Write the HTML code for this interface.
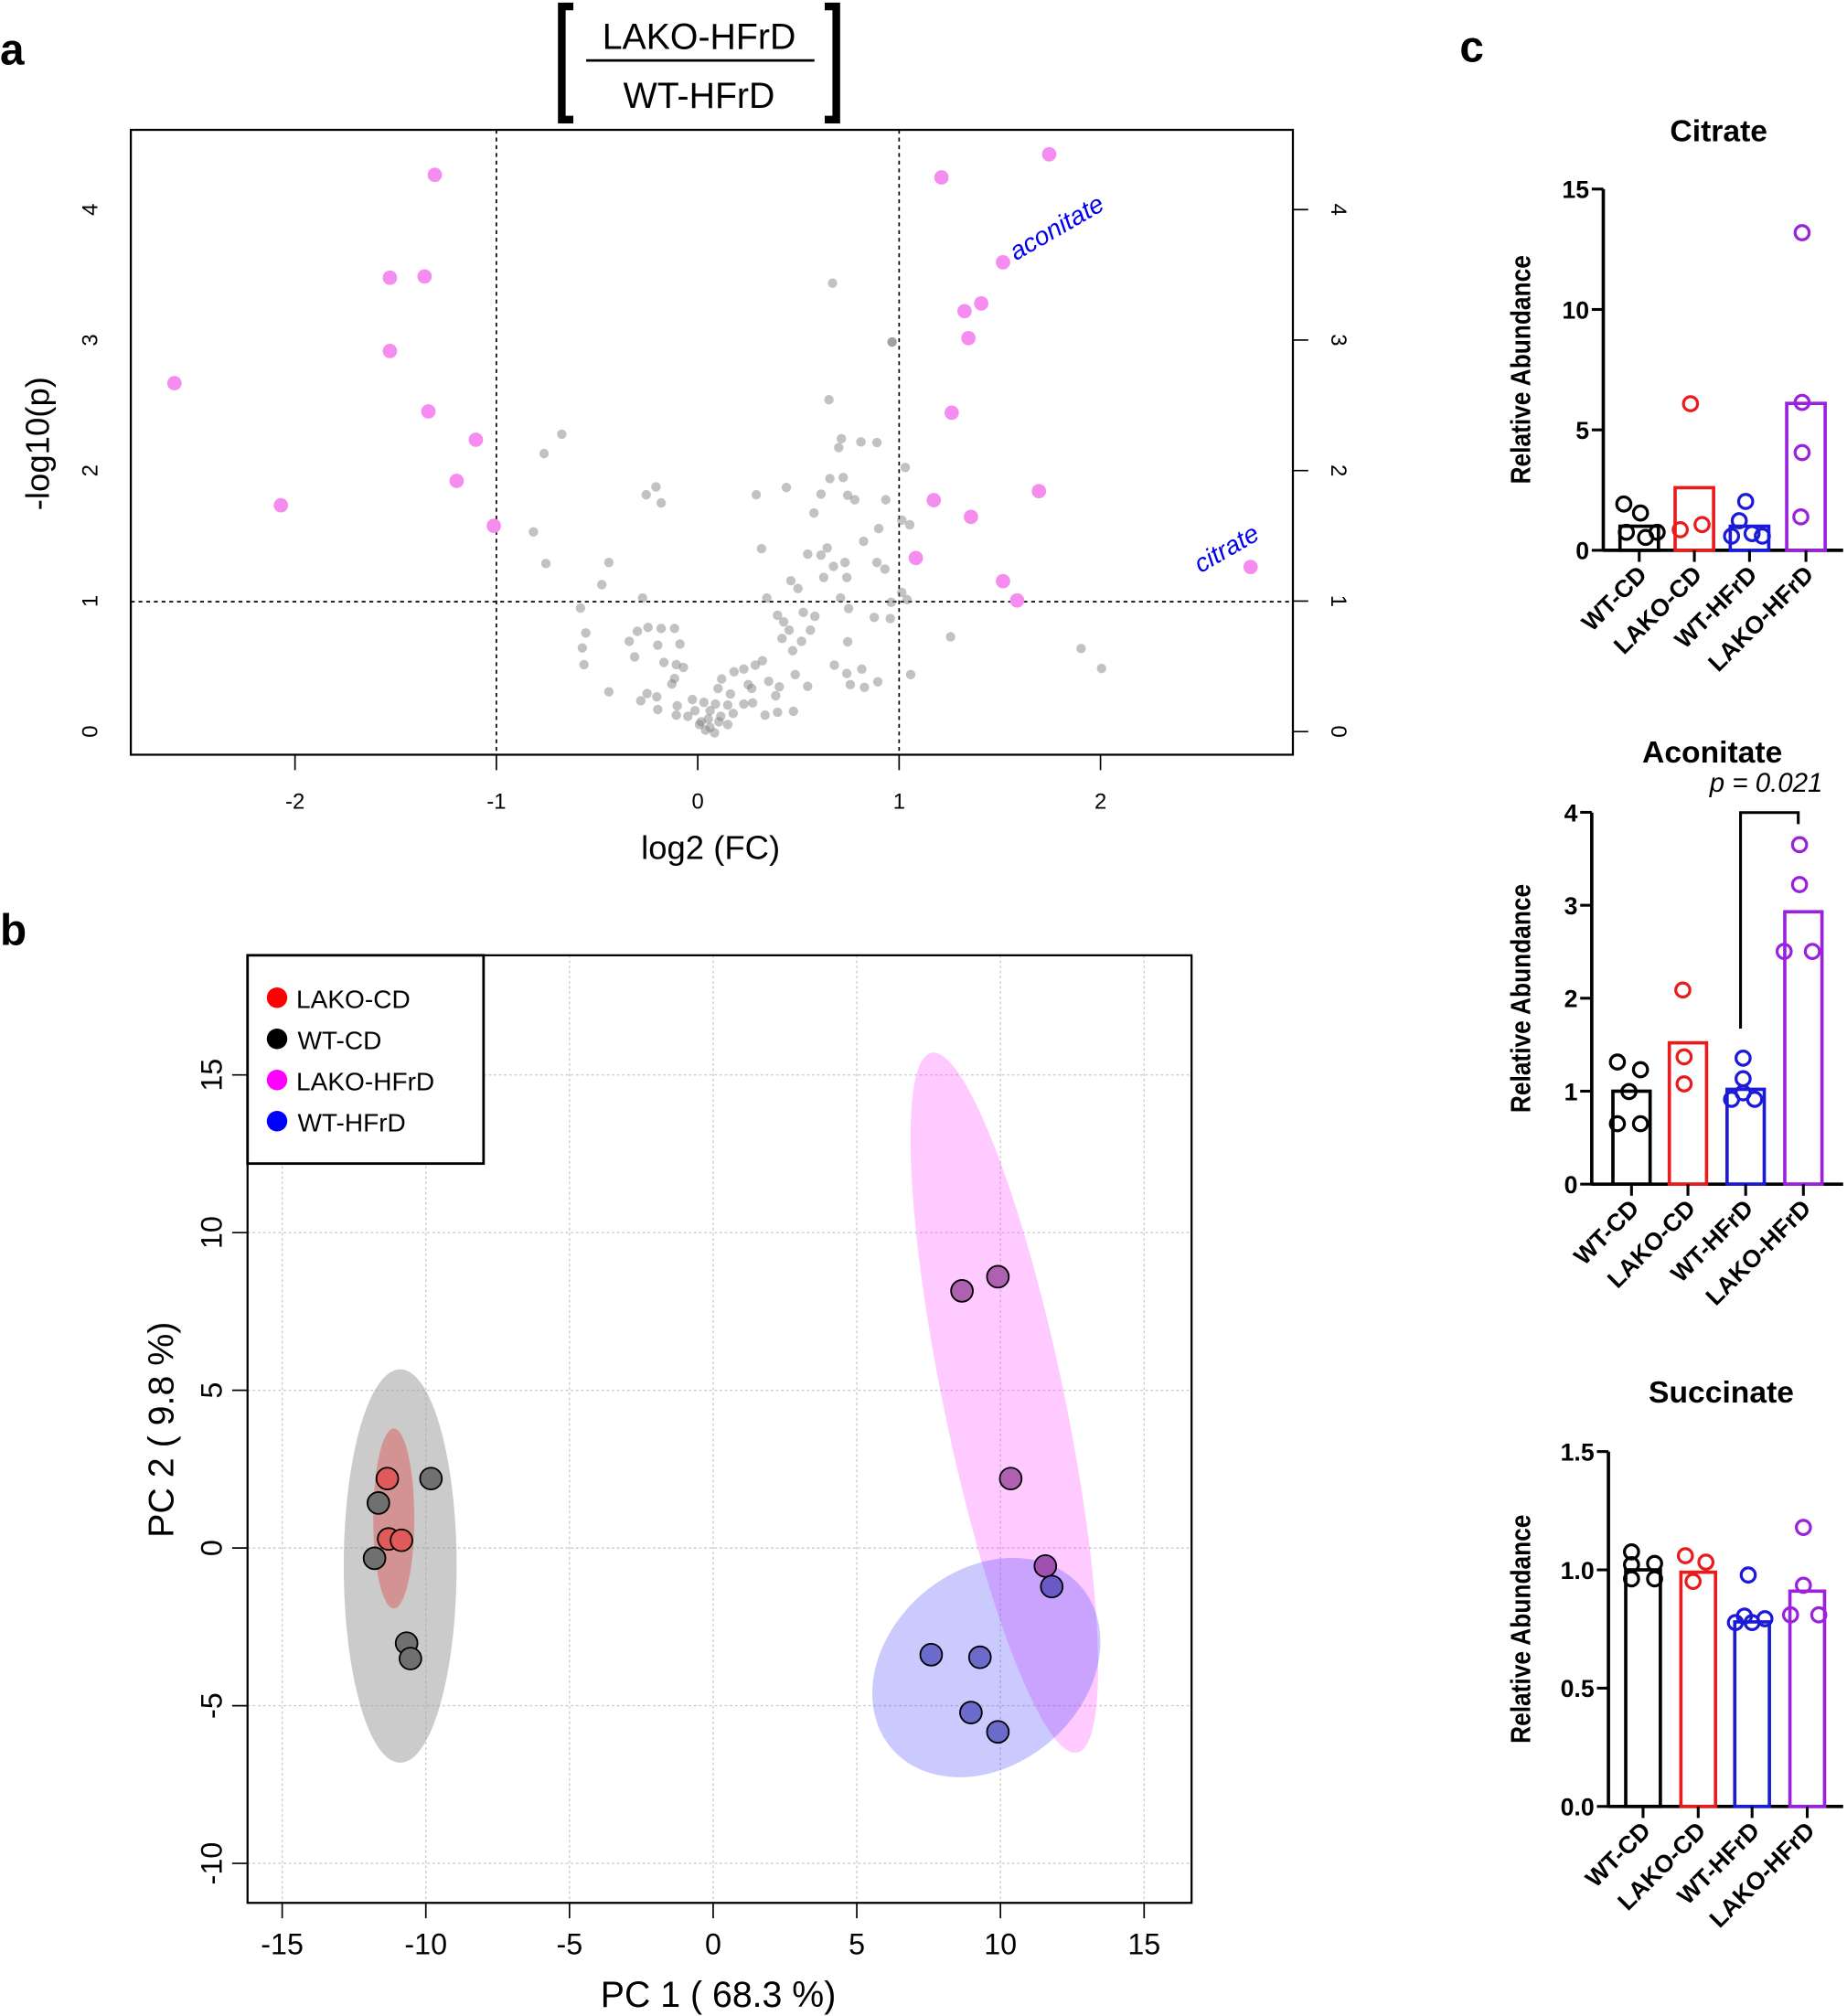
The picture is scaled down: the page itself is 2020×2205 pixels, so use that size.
<!DOCTYPE html>
<html><head><meta charset="utf-8"><style>
html,body{margin:0;padding:0;background:#fff}
svg{display:block}
text{font-family:"Liberation Sans",sans-serif}
</style></head><body>
<svg id="s" width="2020" height="2205" viewBox="0 0 1440 1568" preserveAspectRatio="none" xmlns="http://www.w3.org/2000/svg">
<rect width="1440" height="1568" fill="#fff"/>
<!-- Panel a -->
<text x="0" y="50" font-size="34" font-weight="bold">a</text>
<g stroke="#000" stroke-width="6" fill="none">
<path d="M447 5 H438 V93 H447"/><path d="M643 5 H652 V93 H643"/>
</g>
<text x="545" y="38" font-size="28" text-anchor="middle">LAKO-HFrD</text>
<line x1="457" y1="47" x2="635" y2="47" stroke="#000" stroke-width="2"/>
<text x="545" y="84" font-size="28" text-anchor="middle">WT-HFrD</text>
<rect x="102" y="101" width="906" height="486" fill="none" stroke="#000" stroke-width="1.6"/>
<g stroke="#000" stroke-width="1.2" stroke-dasharray="3,3">
<line x1="387" y1="101" x2="387" y2="587"/><line x1="701" y1="101" x2="701" y2="587"/>
<line x1="102" y1="468" x2="1008" y2="468"/>
</g>
<g id="grey" fill="#777" fill-opacity="0.45"></g>
<g id="pink" fill="#f58cf0"></g>
<g stroke="#000" stroke-width="1.2" id="ticksa"></g>
<g font-size="17" id="labsa"></g>
<text x="554" y="668" font-size="26" text-anchor="middle">log2 (FC)</text>
<text transform="translate(38,345) rotate(-90)" font-size="26" text-anchor="middle">-log10(p)</text>
<text transform="translate(792,203) rotate(-30)" font-size="20" font-style="italic" fill="#0000ee">aconitate</text>
<text transform="translate(936,446) rotate(-30)" font-size="20" font-style="italic" fill="#0000ee">citrate</text>

<!-- Panel b -->
<text x="0" y="735" font-size="34" font-weight="bold">b</text>
<g id="gridb" stroke="#ccc" stroke-width="1" stroke-dasharray="2,2"></g>
<ellipse cx="312" cy="1218" rx="44" ry="153" fill="#a0a0a0" fill-opacity="0.55"/>
<ellipse cx="307" cy="1181" rx="16" ry="70" fill="#e05050" fill-opacity="0.45"/>
<ellipse cx="783" cy="1091" rx="47" ry="278" transform="rotate(-11.8 783 1091)" fill="#ff40ff" fill-opacity="0.28"/>
<ellipse cx="769" cy="1297" rx="97" ry="76" transform="rotate(-40 769 1297)" fill="#4040ff" fill-opacity="0.28"/>
<g stroke="#000" stroke-width="1.3">
<circle cx="302" cy="1150" r="8.5" fill="#e05a5a"/><circle cx="303" cy="1197" r="8.5" fill="#e05a5a"/><circle cx="313" cy="1198" r="8.5" fill="#e05a5a"/>
<circle cx="336" cy="1150" r="8.5" fill="#707070"/><circle cx="295" cy="1169" r="8.5" fill="#707070"/><circle cx="292" cy="1212" r="8.5" fill="#707070"/><circle cx="317" cy="1278" r="8.5" fill="#707070"/><circle cx="320" cy="1290" r="8.5" fill="#707070"/>
<circle cx="750" cy="1004" r="8.5" fill="#b060b0"/><circle cx="778" cy="993" r="8.5" fill="#b060b0"/><circle cx="788" cy="1150" r="8.5" fill="#b060b0"/><circle cx="815" cy="1218" r="8.5" fill="#a050b0"/>
<circle cx="820" cy="1234" r="8.5" fill="#6a5ac8"/><circle cx="726" cy="1287" r="8.5" fill="#6b6bcc"/><circle cx="764" cy="1289" r="8.5" fill="#6b6bcc"/><circle cx="757" cy="1332" r="8.5" fill="#6b6bcc"/><circle cx="778" cy="1347" r="8.5" fill="#6b6bcc"/>
</g>
<rect x="193" y="743" width="736" height="737" fill="none" stroke="#000" stroke-width="1.6"/>
<rect x="193" y="743" width="184" height="162" fill="#fff" stroke="#000" stroke-width="2"/>
<circle cx="216" cy="776" r="8" fill="#ff0000"/><text x="231" y="784" font-size="20">LAKO-CD</text>
<circle cx="216" cy="808" r="8" fill="#000"/><text x="232" y="816" font-size="20">WT-CD</text>
<circle cx="216" cy="840" r="8" fill="#ff00ff"/><text x="231" y="848" font-size="20">LAKO-HFrD</text>
<circle cx="216" cy="872" r="8" fill="#0000ff"/><text x="232" y="880" font-size="20">WT-HFrD</text>
<g id="ticksb" stroke="#000" stroke-width="1.2"></g>
<g id="labsb" font-size="23"></g>
<text x="560" y="1561" font-size="28" text-anchor="middle">PC 1 ( 68.3 %)</text>
<text transform="translate(135,1112) rotate(-90)" font-size="28" text-anchor="middle">PC 2 ( 9.8 %)</text>

<!-- Panel c -->
<text x="1138" y="48" font-size="34" font-weight="bold">c</text>
<g id="pc"></g>
<text x="1377" y="616" font-size="21" font-style="italic" text-anchor="middle">p = 0.021</text>
<path d="M1357 800 V632 H1402 V641" fill="none" stroke="#000" stroke-width="2.2"/>
</svg>
<script>
const NS="http://www.w3.org/2000/svg";
function el(p,t,a,txt){const e=document.createElementNS(NS,t);for(const k in a)e.setAttribute(k,a[k]);if(txt!==undefined)e.textContent=txt;document.getElementById(p).appendChild(e);return e;}
const g=[[938,510],[1005,616],[934,720],[633,782],[613,817],[948,790],[945,806],[970,796],[988,797],[1020,842],[935,862],[950,860],[739,877],[728,891],[745,906],[852,891],[886,878],[925,890],[963,900],[998,900],[955,892],[917,924],[990,952],[1016,937],[1025,945],[601,958],[973,975],[932,987],[925,1000],[858,988],[910,998],[939,1020],[952,1013],[988,1013],[997,1025],[615,1015],[686,1013],[678,1053],[891,1046],[899,1060],[928,1040],[954,1040],[1016,1067],[1022,1080],[724,1077],[864,1077],[947,1077],[1004,1085],[654,1095],[876,1108],[883,1120],[905,1103],[918,1110],[956,1096],[985,1112],[1003,1114],[660,1140],[718,1137],[730,1130],[745,1132],[760,1132],[709,1155],[741,1162],[766,1160],[889,1135],[913,1135],[881,1150],[903,1155],[955,1156],[893,1172],[656,1167],[715,1183],[748,1193],[762,1197],[770,1202],[658,1197],[859,1190],[940,1198],[971,1205],[954,1213],[1026,1215],[896,1215],[838,1205],[851,1198],[827,1210],[813,1223],[760,1222],[757,1232],[843,1233],[866,1227],[878,1237],[910,1236],[958,1233],[989,1228],[974,1238],[686,1246],[729,1249],[722,1262],[740,1255],[809,1240],[823,1250],[847,1240],[874,1253],[780,1260],[793,1265],[806,1268],[820,1270],[838,1268],[848,1266],[741,1278],[763,1271],[783,1280],[800,1280],[812,1290],[826,1285],[862,1288],[876,1283],[894,1281],[762,1288],[775,1290],[790,1300],[800,1310],[805,1320],[795,1315],[810,1300],[820,1305],[798,1295],[788,1305],[1071,1147],[1218,1168],[1241,1204],[1005,616]];
g.forEach(p=>el("grey","circle",{cx:(p[0]/1.03/1.403).toFixed(1),cy:(p[1]/1.647/1.406).toFixed(1),r:3.7}));
const pk=[[339,136],[304,216],[331,215],[304,273],[136,298],[334,320],[371,342],[356,374],[219,393],[385,409],[734,138],[818,120],[782,204],[752,242],[765,236],[755,263],[742,321],[810,382],[728,389],[757,402],[714,434],[782,452],[793,467],[975,441]];
pk.forEach(p=>el("pink","circle",{cx:p[0],cy:p[1],r:5.6}));
[-2,-1,0,1,2].forEach(v=>{const x=544+157*v;el("ticksa","line",{x1:x,y1:587,x2:x,y2:599});el("labsa","text",{x:x,y:629,"text-anchor":"middle"},String(v));});
[0,1,2,3,4].forEach(v=>{const y=569-101.5*v;el("ticksa","line",{x1:1008,y1:y,x2:1020,y2:y});
el("labsa","text",{transform:`translate(76,${y}) rotate(-90)`,"text-anchor":"middle"},String(v));
el("labsa","text",{transform:`translate(1038,${y}) rotate(90)`,"text-anchor":"middle"},String(v));});
[-15,-10,-5,0,5,10,15].forEach(v=>{const x=556+22.4*v;el("gridb","line",{x1:x,y1:743,x2:x,y2:1480});el("ticksb","line",{x1:x,y1:1480,x2:x,y2:1492});
el("labsb","text",{x:x,y:1520,"text-anchor":"middle"},String(v));});
[15,10,5,0,-5,-10].forEach(v=>{const y=1204-24.53*v;el("gridb","line",{x1:193,y1:y,x2:929,y2:y});el("ticksb","line",{x1:181,y1:y,x2:193,y2:y});
el("labsb","text",{transform:`translate(173,${y}) rotate(-90)`,"text-anchor":"middle"},String(v));});
const cols=["#000","#e81c1c","#1a1ad8","#9a22dd"];
const names=["WT-CD","LAKO-CD","WT-HFrD","LAKO-HFrD"];
function bar(cfg){
 const {title,tx,ty,ax,top,bot,xend,ticks,scale,cx,bw,means,pts}=cfg;
 el("pc","text",{x:tx,y:ty,"font-size":24,"font-weight":"bold","text-anchor":"middle"},title);
 el("pc","line",{x1:ax,y1:top,x2:ax,y2:bot+1,stroke:"#000","stroke-width":2.6});
 el("pc","line",{x1:ax,y1:bot,x2:xend,y2:bot,stroke:"#000","stroke-width":2.6});
 ticks.forEach(t=>{const y=bot-t[0]*scale;el("pc","line",{x1:ax-9,y1:y,x2:ax,y2:y,stroke:"#000","stroke-width":2.2});
  el("pc","text",{x:ax-11,y:y+7,"font-size":19,"font-weight":"bold","text-anchor":"end"},t[1]);});
 el("pc","text",{transform:`translate(1193,${(top+bot)/2}) rotate(-90) scale(0.85,1)`,"font-size":22,"font-weight":"bold","text-anchor":"middle"},"Relative Abundance");
 cx.forEach((c,i)=>{const y=bot-means[i]*scale;
  el("pc","rect",{x:c-bw/2,y:y,width:bw,height:bot-y,fill:"none",stroke:cols[i],"stroke-width":2.6});
  el("pc","line",{x1:c,y1:bot,x2:c,y2:bot+9,stroke:"#000","stroke-width":2.2});
  el("pc","text",{transform:`translate(${c+7},${bot+20}) rotate(-45)`,"font-size":19,"font-weight":"bold","text-anchor":"end"},names[i]);
  pts[i].forEach(p=>el("pc","circle",{cx:p[0],cy:p[1],r:5.5,fill:"none",stroke:cols[i],"stroke-width":2.3}));});
}
bar({title:"Citrate",tx:1340,ty:110,ax:1250,top:147,bot:428,xend:1437,ticks:[[0,"0"],[5,"5"],[10,"10"],[15,"15"]],scale:18.73,cx:[1278,1321,1364,1408],bw:30,means:[1.0,2.6,1.0,6.1],
 pts:[[[1266,392],[1279,399],[1268,414],[1283,418],[1292,414]],[[1318,314],[1310,412],[1327,408]],[[1361,390],[1356,405],[1350,417],[1366,415],[1374,417]],[[1405,181],[1405,313],[1405,352],[1404,402]]]});
bar({title:"Aconitate",tx:1335,ty:593,ax:1241,top:632,bot:921,xend:1437,ticks:[[0,"0"],[1,"1"],[2,"2"],[3,"3"],[4,"4"]],scale:72.3,cx:[1272,1316,1361,1406],bw:29,means:[1.0,1.52,1.02,2.93],
 pts:[[[1261,826],[1279,832],[1270,849],[1261,874],[1279,874]],[[1312,770],[1313,822],[1313,843]],[[1359,823],[1359,839],[1350,855],[1368,855],[1359,850]],[[1403,657],[1403,688],[1391,740],[1413,740]]]});
bar({title:"Succinate",tx:1342,ty:1091,ax:1254,top:1129,bot:1405,xend:1437,ticks:[[0,"0.0"],[0.5,"0.5"],[1,"1.0"],[1.5,"1.5"]],scale:184,cx:[1281,1324,1366,1409],bw:27,means:[1.0,0.99,0.78,0.91],
 pts:[[[1272,1207],[1272,1228],[1290,1216],[1290,1228],[1272,1217]],[[1314,1210],[1330,1215],[1320,1230]],[[1363,1225],[1353,1262],[1366,1262],[1376,1259],[1360,1257]],[[1406,1188],[1406,1233],[1396,1256],[1418,1256]]]});
</script>
</body></html>
